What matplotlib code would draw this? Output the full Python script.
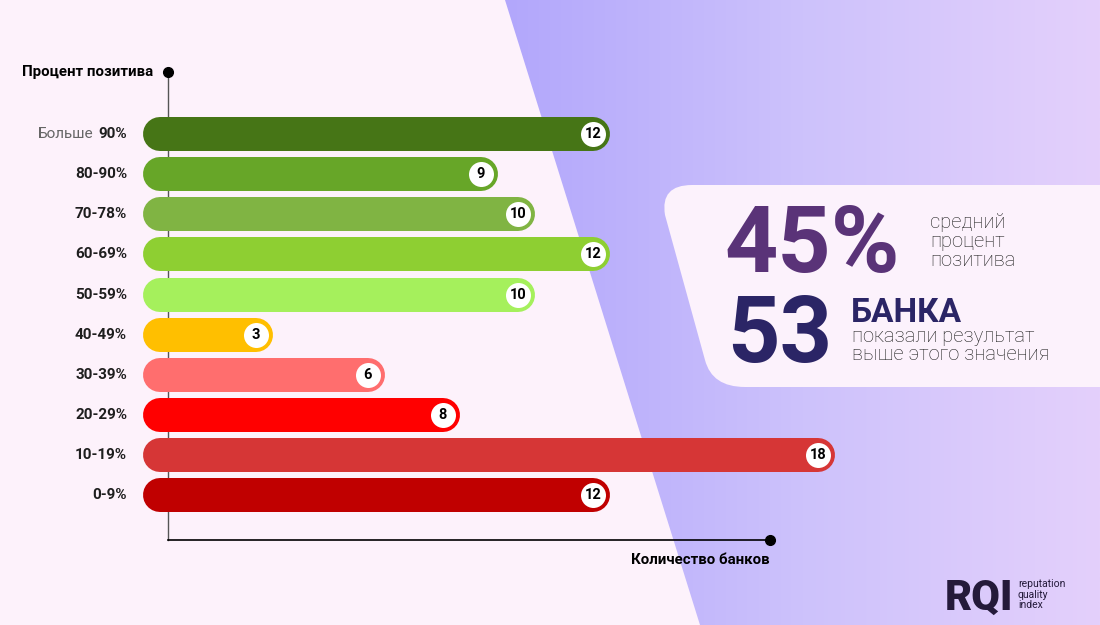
import numpy as np
import matplotlib
matplotlib.use("Agg")
import matplotlib.pyplot as plt
from matplotlib.path import Path
from matplotlib.patches import PathPatch, Polygon
from matplotlib.colors import LinearSegmentedColormap

plt.rcParams["font.family"] = ["Roboto", "DejaVu Sans"]

# ── Данные ────────────────────────────────────────────────
categories = ["Больше 90%", "80-90%", "70-78%", "60-69%", "50-59%",
              "40-49%", "30-39%", "20-29%", "10-19%", "0-9%"]
banks = [12, 9, 10, 12, 10, 3, 6, 8, 18, 12]
colors = ["#467516", "#67a628", "#80b443", "#8ecf32", "#a5f05c",
          "#ffbf00", "#ff6e6e", "#ff0000", "#d63636", "#c00000"]

avg_positive = "45%"
banks_above = "53"

# ── Цвета ────────────────────────────────────────────────
C_BG = "#fdf2fb"
C_AXIS = "#555555"
C_PURPLE = "#5a3378"
C_NAVY = "#2b2566"
C_TEXT = "#1e1e1e"

W, H = 1100, 625
fig = plt.figure(figsize=(W / 100, H / 100), dpi=100, facecolor=C_BG)

# ── Фон (пиксельные координаты) ──────────────────────────
bg = fig.add_axes([0, 0, 1, 1])
bg.set_xlim(0, W)
bg.set_ylim(H, 0)
bg.axis("off")
grad = np.linspace(0, 1, 256)[None, :]
cmap = LinearSegmentedColormap.from_list("bg", ["#b2a7fb", "#cdc2fc", "#e4d0fb"])
img = bg.imshow(grad, extent=[505, W, H, 0], cmap=cmap, aspect="auto", zorder=0)
clip = Polygon([(505, 0), (W, 0), (W, H), (700, H)], closed=True,
               transform=bg.transData, facecolor="none", edgecolor="none")
bg.add_patch(clip)
img.set_clip_path(clip)

# карточка со статистикой
verts = [(692, 185), (W + 5, 185), (W + 5, 387), (745, 387),
         (712, 387), (705, 360), (665, 215), (660, 185), (692, 185)]
codes = [Path.MOVETO, Path.LINETO, Path.LINETO, Path.LINETO,
         Path.CURVE3, Path.CURVE3, Path.LINETO, Path.CURVE3, Path.CURVE3]
bg.add_patch(PathPatch(Path(verts, codes), facecolor="#fcf2fc",
                       edgecolor="none", zorder=1))

bg.text(724, 272, avg_positive, fontsize=67, fontweight="bold",
        color=C_PURPLE, ha="left", va="baseline", zorder=2)
for k, line in enumerate(["средний", "процент", "позитива"]):
    bg.text(930, 228 + k * 19, line, fontsize=14.5, color=C_TEXT,
            fontweight="light", ha="left", va="baseline", zorder=2)
bg.text(727, 362, banks_above, fontsize=66, fontweight="bold",
        color=C_NAVY, ha="left", va="baseline", zorder=2)
bg.text(851, 322, "БАНКА", fontsize=24, fontweight="bold",
        color=C_NAVY, ha="left", va="baseline", zorder=2)
for k, line in enumerate(["показали результат", "выше этого значения"]):
    bg.text(852, 342 + k * 18, line, fontsize=14.5, color=C_TEXT,
            fontweight="light", ha="left", va="baseline", zorder=2)

# логотип
bg.text(945, 610, "RQI", fontsize=30, fontweight="black", color="#241a3a",
        ha="left", va="baseline", zorder=2)
for k, line in enumerate(["reputation", "quality", "index"]):
    bg.text(1018, 587 + k * 10.5, line, fontsize=7.5, color="#241a3a",
            ha="left", va="baseline", zorder=2)

# ── Основной график ──────────────────────────────────────
ax_left, ax_right, ax_top, ax_bottom = 168, 770, 72, 540
ax = fig.add_axes([ax_left / W, 1 - ax_bottom / H,
                   (ax_right - ax_left) / W, (ax_bottom - ax_top) / H])
ax.set_zorder(3)
ax.patch.set_alpha(0)

ppu = 37.5                                   # пикселей на единицу
x_lo = 8 / ppu
x_hi = x_lo + (ax_right - ax_left) / ppu
ax.set_xlim(x_lo, x_hi)
ax.set_ylim(-1.12, 10.55)

bar_px = 34
cap = (bar_px / 2) / ppu
n = len(categories)
for i, (lab, v, c) in enumerate(zip(categories, banks, colors)):
    y = n - 1 - i
    ax.plot([0, v - cap], [y, y], color=c, lw=bar_px * 0.72,
            solid_capstyle="round", clip_on=False, zorder=3)
    ax.scatter([v - cap], [y], s=(25 * 0.72) ** 2, color="white",
               zorder=4, clip_on=False, linewidths=0)
    ax.text(v - cap, y, str(v), fontsize=10.5, fontweight="bold",
            color="black", ha="center", va="center", zorder=5)

    if lab.startswith("Больше"):
        ax.annotate("90%", xy=(x_lo, y), xytext=(-41 * 0.72, 0),
                    textcoords="offset points", ha="right", va="center",
                    fontsize=11, fontweight="bold", color=C_TEXT,
                    annotation_clip=False)
        ax.annotate("Больше", xy=(x_lo, y), xytext=(-75 * 0.72, 0),
                    textcoords="offset points", ha="right", va="center",
                    fontsize=11, color="#666666", annotation_clip=False)
    else:
        ax.annotate(lab, xy=(x_lo, y), xytext=(-41 * 0.72, 0),
                    textcoords="offset points", ha="right", va="center",
                    fontsize=11, fontweight="bold", color=C_TEXT,
                    annotation_clip=False)

# оси
for s in ["top", "right"]:
    ax.spines[s].set_visible(False)
ax.spines["left"].set_color(C_AXIS)
ax.spines["left"].set_linewidth(1.0)
ax.spines["bottom"].set_color("black")
ax.spines["bottom"].set_linewidth(1.2)
ax.set_xticks([])
ax.set_yticks([])

ax.plot([0], [1], "o", color="black", ms=7, transform=ax.transAxes,
        clip_on=False, zorder=6)
ax.plot([1], [0], "o", color="black", ms=7, transform=ax.transAxes,
        clip_on=False, zorder=6)
ax.annotate("Процент позитива", xy=(0, 1), xycoords="axes fraction",
            xytext=(-15 * 0.72, 0), textcoords="offset points",
            ha="right", va="center", fontsize=10.8, fontweight="bold",
            color="black")
ax.annotate("Количество банков", xy=(1, 0), xycoords="axes fraction",
            xytext=(0, -20 * 0.72), textcoords="offset points",
            ha="right", va="center", fontsize=10.8, fontweight="bold",
            color="black")

plt.savefig("out.png", dpi=100, facecolor=C_BG)
